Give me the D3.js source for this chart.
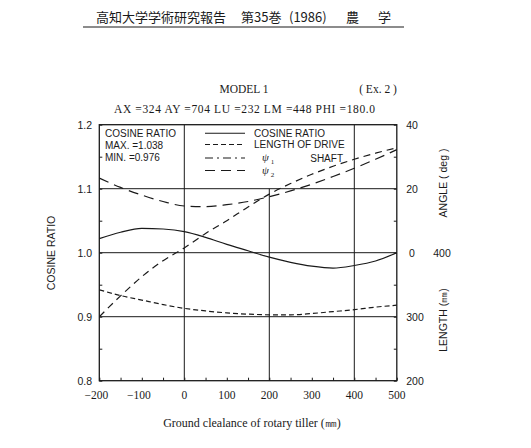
<!DOCTYPE html>
<html>
<head>
<meta charset="utf-8">
<script src="https://cdn.jsdelivr.net/npm/d3@7"></script>
<style>
  body { margin: 0; background: #fff; }
  text { fill: #1a1a1a; }
</style>
</head>
<body>
<div id="chart"></div>
<script>
// Ground clearance of rotary tiller (mm)
const clearance = [-200, -150, -100, -50, 0, 50, 100, 150, 200, 250, 300, 350, 400, 450, 500];
// cosine ratio (left axis)
const cosineRatio = [1.022, 1.032, 1.038, 1.037, 1.033, 1.024, 1.013, 1.003, 0.993, 0.985, 0.979, 0.976, 0.980, 0.987, 1.000];
// length of drive shaft (mm, right axis)
const shaftLength = [342, 333, 326, 319, 313, 309, 306, 304, 303, 303, 305, 308, 311, 315, 318];
// angles (deg, right axis)
const psi1 = [-20, -13.5, -7.5, -2.5, 1.5, 6, 10, 14.3, 18.3, 21.6, 24.5, 27, 29.2, 31.1, 32.8];
const psi2 = [23.3, 20.4, 18, 16, 14.6, 14.4, 15, 16, 17.5, 19.3, 21.4, 23.8, 26.4, 29.2, 32.2];

const xTicks = [-200, -100, 0, 100, 200, 300, 400, 500];
const yTicks = [0.8, 0.9, 1.0, 1.1, 1.2];
const angleTicks = [0, 20, 40];
const lengthTicks = [200, 300, 400];

const W = 531, H = 448;
const svg = d3.select("#chart").append("svg").attr("width", W).attr("height", H);
svg.append("rect").attr("width", W).attr("height", H).attr("fill", "#fff");

const x = d3.scaleLinear().domain([-200, 500]).range([99.3, 396.8]);
const y = d3.scaleLinear().domain([0.8, 1.2]).range([380.7, 124.7]);
const yAngle = d3.scaleLinear().domain([-40, 40]).range([380.7, 124.7]);
const yLen = d3.scaleLinear().domain([200, 600]).range([380.7, 124.7]);

const serif = "'Liberation Serif', serif";
const sans = "'Liberation Sans', sans-serif";
const cjk = "'Noto Sans CJK JP', sans-serif";
const ink = "#1a1a1a";

// page header
const header = [["高知大学学術研究報告", 96], ["第35巻", 241], ["(1986)", 289], ["農", 346], ["学", 378]];
svg.selectAll("text.hdr").data(header).enter().append("text")
    .attr("class", "hdr")
    .attr("x", d => d[1]).attr("y", 22)
    .attr("font-family", cjk).attr("font-size", 13)
    .text(d => d[0]);
svg.append("line").attr("x1", 83).attr("x2", 404).attr("y1", 27).attr("y2", 27)
    .attr("stroke", ink).attr("stroke-width", 1.2);

// titles
svg.append("text").attr("x", 244).attr("y", 93).attr("text-anchor", "middle")
    .attr("font-family", serif).attr("font-size", 11.5).text("MODEL 1");
svg.append("text").attr("x", 378).attr("y", 93).attr("text-anchor", "middle")
    .attr("font-family", serif).attr("font-size", 11.5).text("( Ex. 2 )");
svg.append("text").attr("x", 114).attr("y", 113)
    .attr("font-family", serif).attr("font-size", 11.5)
    .attr("textLength", 261).attr("lengthAdjust", "spacing")
    .text("AX =324  AY =704  LU =232  LM =448  PHI =180.0");

const g = svg.append("g");

// grid
g.selectAll("line.hgrid").data([0.9, 1.0, 1.1]).enter().append("line")
    .attr("x1", x(-200)).attr("x2", x(500))
    .attr("y1", d => y(d)).attr("y2", d => y(d))
    .attr("stroke", ink).attr("stroke-width", 1);
g.selectAll("line.vgrid").data([0, 200, 400]).enter().append("line")
    .attr("x1", d => x(d)).attr("x2", d => x(d))
    .attr("y1", y(0.8)).attr("y2", d => d === 200 ? y(1.1) : y(1.2))
    .attr("stroke", ink).attr("stroke-width", 1);

// axes (ticks pointing inward)
g.append("g").attr("transform", `translate(0,${y(0.8)})`)
    .call(d3.axisTop(x).tickValues(d3.range(-200, 501, 50)).tickSize(3).tickFormat(""))
    .call(a => a.select(".domain").remove());
g.append("g").attr("transform", `translate(${x(-200)},0)`)
    .call(d3.axisRight(y).tickValues(d3.range(0.8, 1.2001, 0.05)).tickSize(3).tickFormat(""))
    .call(a => a.select(".domain").remove());
g.append("g").attr("transform", `translate(${x(500)},0)`)
    .call(d3.axisLeft(y).tickValues(d3.range(0.8, 1.2001, 0.05)).tickSize(3).tickFormat(""))
    .call(a => a.select(".domain").remove());
g.selectAll(".tick line").attr("stroke", ink).attr("stroke-width", 1);

g.append("rect").attr("x", x(-200)).attr("y", y(1.2))
    .attr("width", x(500) - x(-200)).attr("height", y(0.8) - y(1.2))
    .attr("fill", "none").attr("stroke", ink).attr("stroke-width", 1.3);

// tick labels
g.selectAll("text.xt").data(xTicks).enter().append("text")
    .attr("x", d => x(d) + (d < 0 ? -3 : 0)).attr("y", 399)
    .attr("text-anchor", "middle").attr("font-family", serif).attr("font-size", 11.5)
    .text(d => d < 0 ? "\u2212" + Math.abs(d) : d);
g.selectAll("text.yt").data(yTicks).enter().append("text")
    .attr("x", 92).attr("y", d => y(d) + 4)
    .attr("text-anchor", "end").attr("font-family", sans).attr("font-size", 10.5)
    .text(d => d3.format(".1f")(d));
g.selectAll("text.at").data(angleTicks).enter().append("text")
    .attr("x", 412).attr("y", d => yAngle(d) + 4)
    .attr("text-anchor", "middle").attr("font-family", sans).attr("font-size", 10.5)
    .text(d => d);
g.selectAll("text.lt").data(lengthTicks).enter().append("text")
    .attr("x", d => d === 400 ? 442 : 415).attr("y", d => yLen(d) + 4)
    .attr("text-anchor", "middle").attr("font-family", sans).attr("font-size", 10.5)
    .text(d => d);

// axis titles
svg.append("text").attr("x", 252).attr("y", 427).attr("text-anchor", "middle")
    .attr("font-family", serif).attr("font-size", 12).text("Ground clealance of rotary tiller (\u339C)");
svg.append("text").attr("transform", "translate(55,253) rotate(-90)").attr("text-anchor", "middle")
    .attr("font-family", sans).attr("font-size", 10.5).text("COSINE RATIO");
svg.append("text").attr("transform", "translate(447,183) rotate(-90)").attr("text-anchor", "middle")
    .attr("font-family", sans).attr("font-size", 10.5).text("ANGLE ( deg )");
svg.append("text").attr("transform", "translate(447,320) rotate(-90)").attr("text-anchor", "middle")
    .attr("font-family", sans).attr("font-size", 10.5).text("LENGTH (\u339C)");

// series
const series = [
    { name: "cos", values: cosineRatio, scale: y, dash: null },
    { name: "len", values: shaftLength, scale: yLen, dash: "5,3" },
    { name: "psi1", values: psi1, scale: yAngle, dash: "7,5" },
    { name: "psi2", values: psi2, scale: yAngle, dash: "10,6" }
];
series.forEach(s => {
    const line = d3.line()
        .x((d, i) => x(clearance[i]))
        .y(d => s.scale(d))
        .curve(d3.curveMonotoneX);
    g.append("path").datum(s.values)
        .attr("d", line)
        .attr("fill", "none")
        .attr("stroke", ink)
        .attr("stroke-width", 1.2)
        .attr("stroke-dasharray", s.dash);
});

// legend
const info = ["COSINE RATIO", "MAX. =1.038", "MIN. =0.976"];
g.selectAll("text.info").data(info).enter().append("text")
    .attr("x", 105).attr("y", (d, i) => 137 + i * 12)
    .attr("font-family", sans).attr("font-size", 10).text(d => d);

const legendRows = [
    { label: "COSINE RATIO", dash: null, y: 133.3 },
    { label: "LENGTH OF DRIVE", dash: "5,3", y: 144.5 },
    { label: "", dash: "8,4,2,4", y: 158 },
    { label: "", dash: "10,6", y: 170.5 }
];
legendRows.forEach(r => {
    g.append("line").attr("x1", 205).attr("x2", 245).attr("y1", r.y).attr("y2", r.y)
        .attr("stroke", ink).attr("stroke-width", 1.1).attr("stroke-dasharray", r.dash);
    if (r.label) g.append("text").attr("x", 254).attr("y", r.y + 3.7)
        .attr("font-family", sans).attr("font-size", 10).text(r.label);
});
g.append("text").attr("x", 343).attr("y", 162).attr("text-anchor", "end")
    .attr("font-family", sans).attr("font-size", 10).text("SHAFT");
[["1", 161], ["2", 173.5]].forEach(p => {
    const t = g.append("text").attr("x", 262).attr("y", p[1])
        .attr("font-family", serif).attr("font-size", 11).attr("font-style", "italic").text("\u03C8");
    t.append("tspan").attr("dx", 2).attr("dy", 3).attr("font-size", 7).attr("font-style", "normal").text(p[0]);
});
</script>
</body>
</html>
